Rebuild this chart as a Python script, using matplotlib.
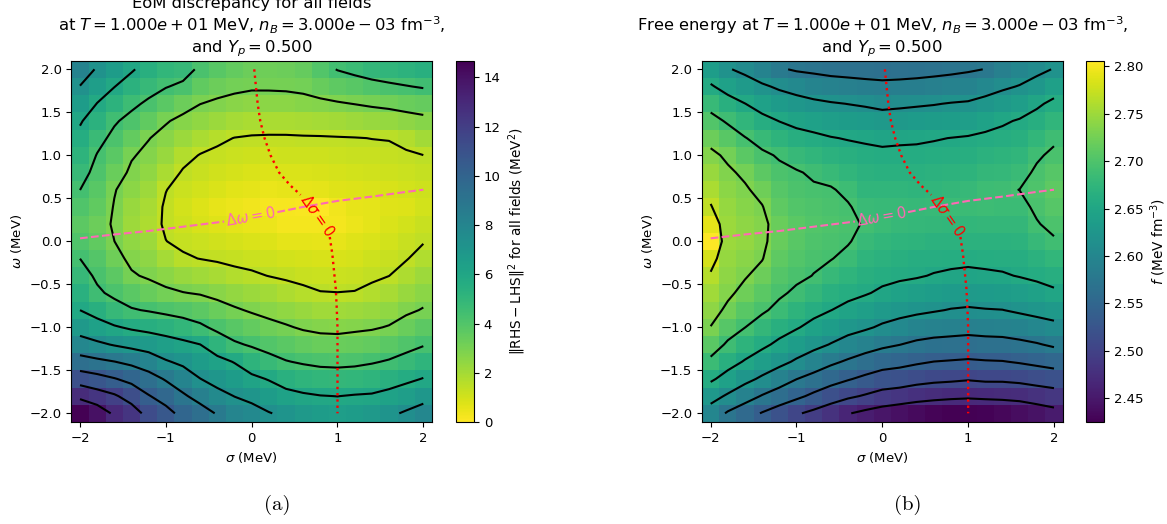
import numpy as np
import matplotlib.pyplot as plt

# grid of mean-field values (MeV), cell centres
sigma_vals = [-2.0, -1.8, -1.6, -1.4, -1.2, -1.0, -0.8, -0.6, -0.4, -0.2, 0.0,
              0.2, 0.4, 0.6, 0.8, 1.0, 1.2, 1.4, 1.6, 1.8, 2.0]
omega_vals = [-2.0, -1.8, -1.6, -1.4, -1.2, -1.0, -0.8, -0.6, -0.4, -0.2, 0.0,
              0.2, 0.4, 0.6, 0.8, 1.0, 1.2, 1.4, 1.6, 1.8, 2.0]

# ||RHS - LHS||^2 (MeV^2); one list per sigma column, omega from -2 to 2
eom_cols = [
    [14.68, 12.9, 11.08, 9.35, 7.91, 6.78, 5.87, 5.36, 4.86, 4.40, 4.05, 3.70, 4.06, 4.41, 4.80, 5.19, 5.59, 5.98, 6.63, 7.30, 8.10],
    [14.0, 12.39, 10.75, 9.08, 7.58, 6.36, 5.42, 4.58, 4.22, 3.92, 3.61, 3.30, 3.56, 3.83, 4.09, 4.35, 4.75, 5.29, 5.84, 6.49, 7.20],
    [13.0, 11.92, 10.35, 8.83, 7.25, 6.0, 4.85, 4.17, 3.70, 3.23, 2.94, 2.83, 2.88, 2.99, 3.37, 3.75, 4.13, 4.53, 5.22, 5.90, 6.60],
    [12.4, 11.19, 9.91, 8.50, 6.98, 5.70, 4.50, 3.77, 3.04, 2.73, 2.45, 2.17, 2.28, 2.53, 2.77, 3.02, 3.55, 4.08, 4.64, 5.32, 6.00],
    [11.3, 10.35, 9.35, 8.07, 6.75, 5.50, 4.32, 3.41, 2.81, 2.47, 2.13, 1.79, 1.90, 2.17, 2.44, 2.71, 2.97, 3.57, 4.21, 4.82, 5.40],
    [10.7, 9.75, 8.69, 7.45, 6.45, 5.28, 4.11, 3.15, 2.53, 1.97, 1.48, 1.36, 1.36, 1.49, 1.85, 2.24, 2.63, 3.02, 3.75, 4.46, 5.00],
    [9.9, 9.0, 8.03, 7.09, 6.18, 5.0, 3.92, 2.97, 2.27, 1.57, 1.31, 1.11, 1.0, 1.2, 1.39, 1.72, 2.2, 2.69, 3.31, 4.19, 4.85],
    [9.4, 8.33, 7.36, 6.64, 5.88, 4.63, 3.71, 2.85, 2.1, 1.45, 1.17, 0.9, 0.76, 0.98, 1.21, 1.43, 1.88, 2.41, 2.95, 3.57, 4.2],
    [8.7, 7.7, 6.94, 6.24, 5.15, 4.13, 3.38, 2.63, 1.9, 1.36, 1.05, 0.73, 0.56, 0.81, 1.06, 1.3, 1.62, 2.19, 2.77, 3.3, 3.8],
    [8.0, 7.32, 6.61, 5.81, 4.56, 3.8, 3.07, 2.39, 1.7, 1.27, 0.93, 0.6, 0.41, 0.67, 0.93, 1.19, 1.45, 2.0, 2.63, 3.15, 3.5],
    [7.75, 7.05, 6.14, 5.18, 4.28, 3.53, 2.82, 2.2, 1.59, 1.2, 0.86, 0.51, 0.32, 0.59, 0.85, 1.12, 1.39, 1.88, 2.52, 3.06, 3.3],
    [7.4, 6.62, 5.8, 4.8, 3.99, 3.26, 2.61, 2.01, 1.45, 1.1, 0.76, 0.41, 0.22, 0.51, 0.79, 1.08, 1.37, 1.87, 2.53, 3.06, 3.25],
    [7.1, 6.25, 5.36, 4.46, 3.75, 3.04, 2.43, 1.83, 1.34, 0.99, 0.63, 0.28, 0.18, 0.52, 0.81, 1.09, 1.37, 1.88, 2.56, 3.08, 3.3],
    [6.8, 6.04, 5.14, 4.28, 3.53, 2.82, 2.24, 1.65, 1.25, 0.92, 0.59, 0.26, 0.12, 0.53, 0.81, 1.1, 1.39, 1.93, 2.64, 3.15, 3.45],
    [6.6, 5.91, 5.0, 4.15, 3.38, 2.7, 2.1, 1.5, 1.18, 0.87, 0.55, 0.23, 0.0, 0.61, 0.87, 1.13, 1.4, 1.96, 2.73, 3.39, 4.0],
    [6.5, 5.86, 4.95, 4.12, 3.35, 2.67, 2.07, 1.48, 1.18, 0.87, 0.56, 0.25, 0.3, 0.72, 0.95, 1.18, 1.42, 2.03, 2.84, 3.64, 4.45],
    [6.6, 5.95, 5.02, 4.17, 3.44, 2.75, 2.13, 1.5, 1.23, 0.96, 0.69, 0.42, 0.52, 0.75, 0.98, 1.21, 1.44, 2.13, 2.96, 3.84, 4.7],
    [6.8, 6.0, 5.14, 4.31, 3.54, 2.83, 2.25, 1.67, 1.33, 1.1, 0.86, 0.62, 0.61, 0.83, 1.04, 1.26, 1.48, 2.25, 3.09, 4.03, 4.95],
    [7.1, 6.22, 5.36, 4.5, 3.75, 3.0, 2.46, 1.93, 1.46, 1.24, 1.03, 0.81, 0.7, 0.9, 1.1, 1.3, 1.5, 2.33, 3.2, 4.2, 5.1],
    [7.5, 6.53, 5.63, 4.79, 4.05, 3.35, 2.76, 2.27, 1.79, 1.42, 1.21, 1.0, 0.8, 0.99, 1.17, 1.36, 1.7, 2.49, 3.35, 4.35, 5.25],
    [7.9, 6.9, 5.92, 5.11, 4.33, 3.67, 3.0, 2.58, 2.17, 1.75, 1.42, 1.21, 1.0, 1.09, 1.28, 1.46, 2.01, 2.65, 3.47, 4.5, 5.4],
]

# free energy f (MeV fm^-3); one list per sigma column, omega from -2 to 2
free_cols = [
    [2.600, 2.628, 2.659, 2.685, 2.708, 2.729, 2.741, 2.752, 2.764, 2.781, 2.806, 2.790, 2.770, 2.758, 2.747, 2.736, 2.721, 2.702, 2.681, 2.657, 2.635],
    [2.573, 2.611, 2.641, 2.666, 2.687, 2.706, 2.724, 2.735, 2.741, 2.745, 2.748, 2.748, 2.745, 2.740, 2.734, 2.725, 2.707, 2.688, 2.666, 2.642, 2.618],
    [2.555, 2.593, 2.625, 2.651, 2.672, 2.692, 2.707, 2.722, 2.732, 2.738, 2.744, 2.742, 2.737, 2.733, 2.725, 2.709, 2.693, 2.674, 2.654, 2.631, 2.608],
    [2.537, 2.575, 2.610, 2.637, 2.660, 2.678, 2.696, 2.708, 2.721, 2.731, 2.735, 2.736, 2.731, 2.722, 2.710, 2.697, 2.681, 2.662, 2.642, 2.620, 2.595],
    [2.521, 2.561, 2.594, 2.625, 2.647, 2.666, 2.684, 2.696, 2.704, 2.711, 2.718, 2.719, 2.712, 2.705, 2.698, 2.689, 2.671, 2.653, 2.633, 2.611, 2.581],
    [2.505, 2.547, 2.578, 2.611, 2.635, 2.656, 2.672, 2.687, 2.697, 2.702, 2.707, 2.708, 2.703, 2.698, 2.694, 2.680, 2.664, 2.646, 2.627, 2.604, 2.574],
    [2.493, 2.532, 2.566, 2.597, 2.625, 2.645, 2.662, 2.677, 2.691, 2.696, 2.700, 2.703, 2.699, 2.695, 2.688, 2.674, 2.660, 2.641, 2.622, 2.597, 2.571],
    [2.480, 2.518, 2.553, 2.584, 2.614, 2.635, 2.654, 2.667, 2.680, 2.693, 2.697, 2.700, 2.697, 2.694, 2.682, 2.669, 2.655, 2.637, 2.618, 2.592, 2.568],
    [2.465, 2.507, 2.542, 2.573, 2.602, 2.627, 2.646, 2.661, 2.673, 2.684, 2.694, 2.696, 2.694, 2.686, 2.675, 2.665, 2.652, 2.634, 2.615, 2.590, 2.566],
    [2.455, 2.498, 2.532, 2.563, 2.592, 2.620, 2.638, 2.656, 2.665, 2.673, 2.682, 2.690, 2.683, 2.675, 2.668, 2.661, 2.650, 2.632, 2.612, 2.587, 2.565],
    [2.447, 2.488, 2.523, 2.554, 2.584, 2.611, 2.631, 2.649, 2.661, 2.668, 2.676, 2.684, 2.681, 2.674, 2.667, 2.660, 2.647, 2.629, 2.608, 2.585, 2.564],
    [2.440, 2.484, 2.519, 2.550, 2.578, 2.604, 2.626, 2.644, 2.658, 2.665, 2.673, 2.680, 2.681, 2.674, 2.667, 2.660, 2.649, 2.630, 2.610, 2.586, 2.565],
    [2.434, 2.478, 2.513, 2.544, 2.571, 2.597, 2.622, 2.639, 2.656, 2.663, 2.671, 2.679, 2.680, 2.673, 2.667, 2.660, 2.650, 2.632, 2.612, 2.587, 2.567],
    [2.429, 2.474, 2.509, 2.539, 2.567, 2.593, 2.618, 2.635, 2.652, 2.662, 2.669, 2.677, 2.681, 2.675, 2.668, 2.661, 2.652, 2.634, 2.614, 2.589, 2.569],
    [2.426, 2.471, 2.507, 2.537, 2.565, 2.591, 2.614, 2.632, 2.649, 2.661, 2.668, 2.676, 2.684, 2.677, 2.670, 2.662, 2.654, 2.636, 2.617, 2.592, 2.571],
    [2.425, 2.469, 2.504, 2.535, 2.563, 2.589, 2.612, 2.631, 2.647, 2.660, 2.668, 2.676, 2.684, 2.680, 2.672, 2.664, 2.656, 2.637, 2.619, 2.595, 2.574],
    [2.427, 2.471, 2.507, 2.537, 2.565, 2.591, 2.614, 2.632, 2.649, 2.661, 2.669, 2.678, 2.686, 2.686, 2.677, 2.668, 2.659, 2.644, 2.625, 2.603, 2.578],
    [2.431, 2.472, 2.507, 2.538, 2.566, 2.592, 2.615, 2.634, 2.651, 2.662, 2.669, 2.677, 2.684, 2.688, 2.679, 2.671, 2.662, 2.650, 2.631, 2.611, 2.590],
    [2.437, 2.474, 2.510, 2.542, 2.570, 2.596, 2.620, 2.637, 2.655, 2.663, 2.670, 2.677, 2.685, 2.692, 2.683, 2.674, 2.665, 2.656, 2.637, 2.617, 2.600],
    [2.444, 2.480, 2.515, 2.547, 2.575, 2.601, 2.625, 2.643, 2.659, 2.669, 2.680, 2.690, 2.696, 2.700, 2.696, 2.688, 2.676, 2.664, 2.649, 2.627, 2.608],
    [2.452, 2.485, 2.520, 2.552, 2.582, 2.607, 2.629, 2.649, 2.664, 2.676, 2.689, 2.698, 2.705, 2.712, 2.705, 2.697, 2.687, 2.674, 2.660, 2.640, 2.617],
]

# zero lines of the field equations (split where the inline label sits)
dsig_sigma = [0.03, 0.05, 0.07, 0.10, 0.15, 0.22, 0.32, 0.45, 0.57, 0.91, 0.94, 0.96, 0.98, 0.99, 1.0, 1.0, 1.0, 1.0, 1.0]
dsig_omega = [2.0, 1.8, 1.6, 1.4, 1.2, 1.0, 0.8, 0.65, 0.54, 0.05, -0.15, -0.35, -0.55, -0.75, -1.0, -1.25, -1.5, -1.75, -2.0]
dom_sigma = [-2.0, -1.6, -1.2, -0.8, -0.32, 0.3, 0.6, 1.0, 1.4, 1.8, 2.0]
dom_omega = [0.035, 0.08, 0.12, 0.17, 0.23, 0.34, 0.40, 0.47, 0.52, 0.575, 0.60]
dsig_gap = 9
dom_gap = 5

cond = r"at $T = 1.000e+01$ MeV, $n_B = 3.000e-03$ fm$^{-3}$,"
title_a = "EoM discrepancy for all fields\n" + cond + "\nand $Y_p = 0.500$"
title_b = "Free energy " + cond + "\nand $Y_p = 0.500$"
cbar_a = r"$\Vert\mathrm{RHS} - \mathrm{LHS}\Vert^2$ for all fields (MeV$^2$)"
cbar_b = r"$f$ (MeV fm$^{-3}$)"

S, W = np.meshgrid(sigma_vals, omega_vals)
eom = np.array(eom_cols).T
free = np.array(free_cols).T

fig = plt.figure(figsize=(11.67, 5.24), dpi=100)


def panel(rect, crect, Z, cmap, title, clabel):
    ax = fig.add_axes(rect)
    cax = fig.add_axes(crect)
    mesh = ax.pcolormesh(S, W, Z, cmap=cmap, shading='nearest')
    levels = np.linspace(Z.min(), Z.max(), 11)[1:-1]
    ax.contour(S, W, Z, levels=levels, colors='k', linewidths=1.5)

    ax.plot(dsig_sigma[:dsig_gap], dsig_omega[:dsig_gap], ':', color='red', lw=1.7)
    ax.plot(dsig_sigma[dsig_gap:], dsig_omega[dsig_gap:], ':', color='red', lw=1.7)
    ax.plot(dom_sigma[:dom_gap], dom_omega[:dom_gap], '--', color='hotpink', lw=1.5)
    ax.plot(dom_sigma[dom_gap:], dom_omega[dom_gap:], '--', color='hotpink', lw=1.5)
    ax.text(0.76, 0.30, r'$\Delta\sigma = 0$', color='red', fontsize=10.5,
            rotation=-55, ha='center', va='center', rotation_mode='anchor')
    ax.text(-0.01, 0.29, r'$\Delta\omega = 0$', color='hotpink', fontsize=10.5,
            rotation=10, ha='center', va='center', rotation_mode='anchor')

    ax.set_xlim(-2.1, 2.1)
    ax.set_ylim(-2.1, 2.1)
    ax.set_xticks([-2, -1, 0, 1, 2])
    ax.set_yticks([-2.0, -1.5, -1.0, -0.5, 0.0, 0.5, 1.0, 1.5, 2.0])
    ax.tick_params(labelsize=9.5)
    ax.set_xlabel(r'$\sigma$ (MeV)', fontsize=9.5)
    ax.set_ylabel(r'$\omega$ (MeV)', fontsize=9.5)
    ax.set_title(title, fontsize=11.8)

    cb = fig.colorbar(mesh, cax=cax)
    cb.ax.tick_params(labelsize=9.5)
    cb.set_label(clabel, fontsize=9.8)
    return ax


panel([0.0612, 0.1948, 0.3089, 0.6893], [0.3907, 0.1948, 0.0154, 0.6893],
      eom, 'viridis_r', title_a, cbar_a)
panel([0.6016, 0.1948, 0.3089, 0.6893], [0.9306, 0.1948, 0.0154, 0.6893],
      free, 'viridis', title_b, cbar_b)

fig.text(0.238, 0.036, '(a)', family='cmr10', fontsize=15, ha='center', va='center')
fig.text(0.778, 0.036, '(b)', family='cmr10', fontsize=15, ha='center', va='center')

fig.savefig('out.png', dpi=100)
